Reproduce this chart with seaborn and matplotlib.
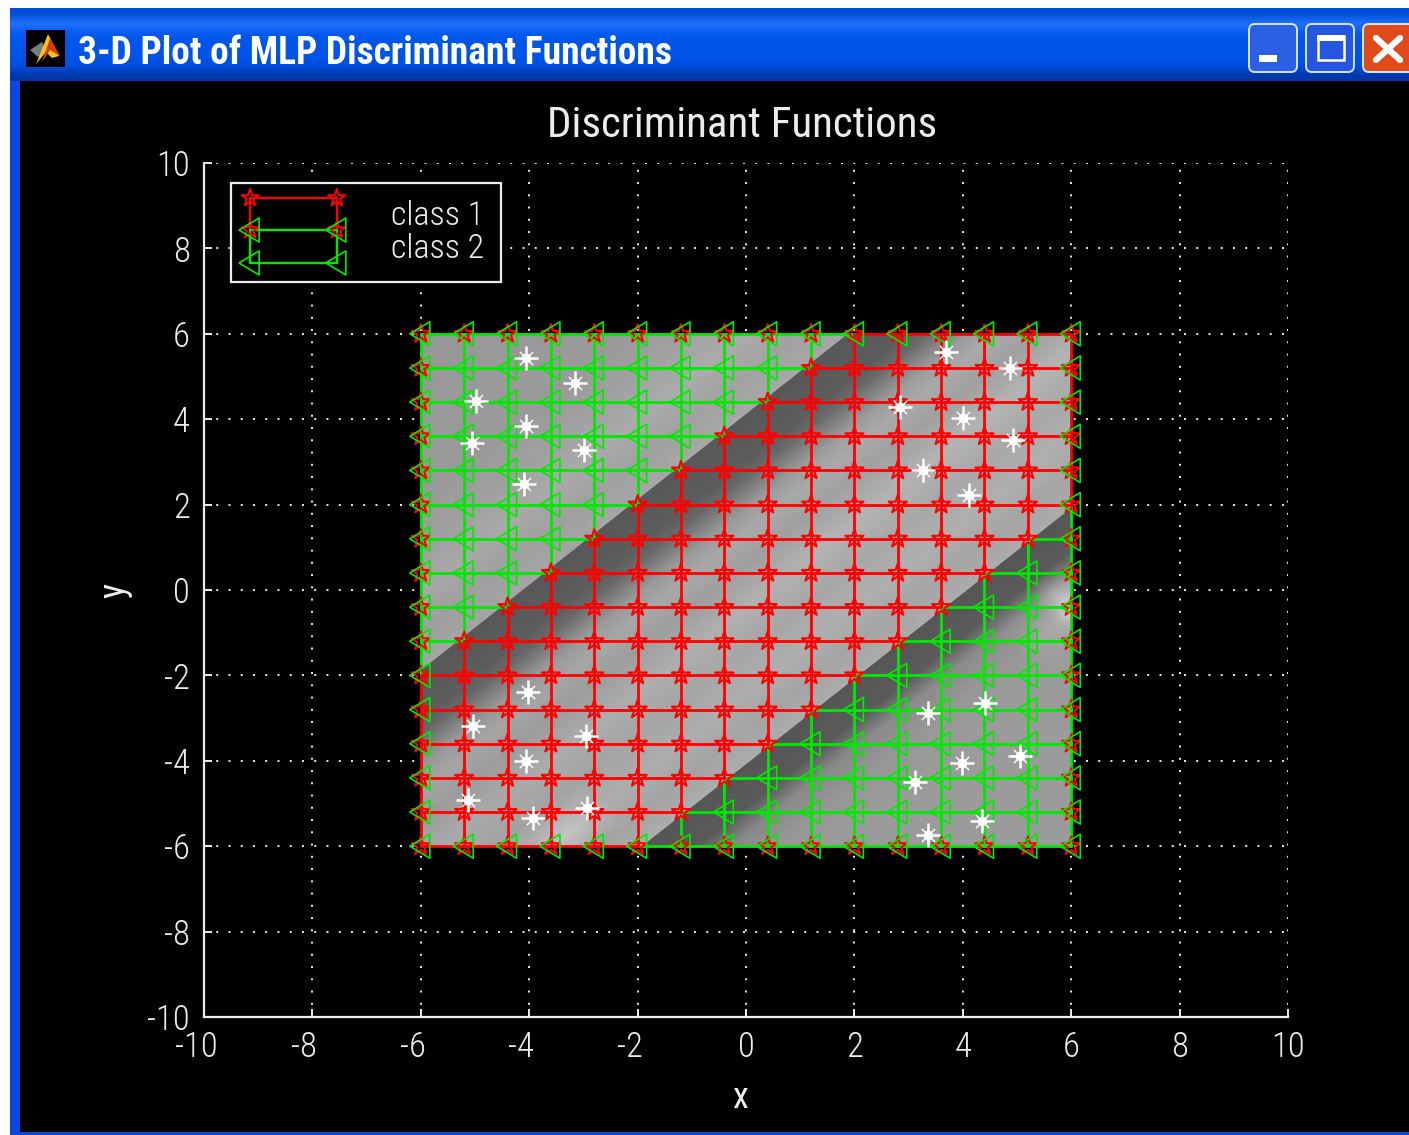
import numpy as np
import pandas as pd
import matplotlib
matplotlib.use("Agg")
import matplotlib.pyplot as plt
from matplotlib.patches import Rectangle, FancyBboxPatch, Polygon
from matplotlib.lines import Line2D
from matplotlib.path import Path
from matplotlib.transforms import ScaledTranslation
import seaborn as sns

# ---------- data ----------
x_nodes = [-6.0, -5.2, -4.4, -3.6, -2.8, -2.0, -1.2, -0.4, 0.4, 1.2, 2.0, 2.8, 3.6, 4.4, 5.2, 6.0]
y_nodes = [6.0, 5.2, 4.4, 3.6, 2.8, 2.0, 1.2, 0.4, -0.4, -1.2, -2.0, -2.8, -3.6, -4.4, -5.2, -6.0]
node_class = [
    "2222222222111111",
    "2222222221111111",
    "2222222211111111",
    "2222222111111111",
    "2222221111111111",
    "2222211111111111",
    "2222111111111112",
    "2221111111111122",
    "2211111111111222",
    "2111111111112222",
    "1111111111122222",
    "1111111111222222",
    "1111111112222222",
    "1111111122222222",
    "1111111222222222",
    "1111112222222222",
]
samples_x = [-4.06, -3.15, -4.98, -4.06, -5.06, -2.99, -4.10,
             3.69, 4.87, 2.84, 4.00, 4.93, 3.27, 4.11,
             -4.02, -5.04, -2.95, -4.06, -5.13, -3.93, -2.93,
             4.41, 3.36, 5.06, 3.99, 3.12, 4.35, 3.36]
samples_y = [5.43, 4.85, 4.43, 3.84, 3.44, 3.28, 2.48,
             5.57, 5.20, 4.29, 4.03, 3.51, 2.81, 2.22,
             -2.39, -3.18, -3.42, -4.00, -4.92, -5.34, -5.11,
             -2.65, -2.88, -3.89, -4.05, -4.50, -5.41, -5.74]
tick_values = [-10, -8, -6, -4, -2, 0, 2, 4, 6, 8, 10]
legend_labels = ["class 1", "class 2"]

# Grey level of the discriminant surface: y-x across, x+y along
across_knots = [12, 8, 7, 6, 5, 4.12, 4.1, 3, 2.6, 1.9, 1.3, 0.6, -0.4, -1.4, -2.4, -3.3, -4.08, -4.1, -5.1, -5.7, -6.5, -7.5, -12]
along_knots = [-14, -10.5, -9, -7.5, 3.5, 5, 5.6, 6.5, 14]
grey_table = [
    [152, 152, 152, 152, 152, 152, 152, 152, 152],
    [155, 155, 155, 155, 155, 155, 155, 155, 155],
    [158, 158, 158, 158, 162, 162, 162, 162, 162],
    [168, 168, 168, 168, 172, 172, 172, 172, 172],
    [158, 158, 158, 158, 162, 162, 162, 162, 162],
    [165, 165, 165, 165, 168, 168, 168, 168, 168],
    [88, 88, 88, 88, 88, 88, 88, 88, 88],
    [94, 94, 94, 94, 94, 94, 94, 94, 94],
    [105, 105, 105, 105, 108, 108, 108, 108, 108],
    [152, 152, 152, 152, 155, 155, 155, 155, 155],
    [165, 165, 165, 165, 170, 170, 170, 170, 170],
    [156, 156, 156, 156, 160, 160, 160, 160, 160],
    [170, 170, 170, 172, 180, 180, 180, 180, 180],
    [162, 162, 162, 164, 168, 168, 168, 168, 168],
    [170, 174, 198, 174, 176, 176, 176, 176, 176],
    [163, 163, 163, 163, 165, 165, 165, 165, 165],
    [174, 174, 174, 174, 172, 172, 172, 172, 172],
    [86, 86, 86, 86, 86, 86, 86, 86, 86],
    [90, 90, 90, 90, 92, 92, 92, 92, 92],
    [135, 135, 135, 135, 140, 145, 170, 150, 140],
    [150, 150, 150, 150, 152, 175, 225, 190, 155],
    [155, 155, 155, 155, 155, 158, 170, 160, 155],
    [155, 155, 155, 155, 155, 155, 155, 155, 155],
]

# ---------- derived tables ----------
rows = []
for j, y in enumerate(y_nodes):
    for i, x in enumerate(x_nodes):
        on_edge = i in (0, len(x_nodes) - 1) or j in (0, len(y_nodes) - 1)
        rows.append(dict(x=x, y=y, cls=int(node_class[j][i]), edge=on_edge))
nodes = pd.DataFrame(rows)

edges = []
eid = 0
for j, y in enumerate(y_nodes):
    for i, x in enumerate(x_nodes):
        if i + 1 < len(x_nodes):
            c = 1 if node_class[j][i] == "1" and node_class[j][i + 1] == "1" else 2
            edges += [dict(u=eid, x=x, y=y, cls=c), dict(u=eid, x=x_nodes[i + 1], y=y, cls=c)]
            eid += 1
        if j + 1 < len(y_nodes):
            c = 1 if node_class[j][i] == "1" and node_class[j + 1][i] == "1" else 2
            edges += [dict(u=eid, x=x, y=y, cls=c), dict(u=eid, x=x, y=y_nodes[j + 1], cls=c)]
            eid += 1
edges = pd.DataFrame(edges)
samples = pd.DataFrame(dict(x=samples_x, y=samples_y))

# ---------- style ----------
sns.set_theme(style="dark")
FONT = ["Roboto Condensed", "Liberation Sans Narrow", "Liberation Sans", "DejaVu Sans"]
FG = "#ececec"
RED = "#ff0000"
GREEN = "#00ea00"
plt.rcParams["font.family"] = FONT
plt.rcParams["font.weight"] = "light"
plt.rcParams["axes.unicode_minus"] = False

W, H = 1409, 1135
fig = plt.figure(figsize=(W / 100, H / 100), dpi=100, facecolor="white")

# ---------- window chrome, in pixel coordinates ----------
bg = fig.add_axes([0, 0, 1, 1], zorder=0)
bg.set_xlim(0, W)
bg.set_ylim(H, 0)
bg.axis("off")
bg.add_patch(Rectangle((10, 8), W, H, fc="#0a47dc", ec="none"))
bg.add_patch(Rectangle((20, 81), W, 1051, fc="black", ec="none"))
bar = np.array([[[0, 78, 216]], [[32, 112, 248]], [[4, 90, 238]], [[0, 84, 232]],
                [[0, 84, 232]], [[0, 78, 226]], [[0, 56, 170]]], dtype=np.uint8)
bg.imshow(bar, extent=(10, W, 81, 8), aspect="auto", interpolation="bilinear", zorder=1)
bg.set_xlim(0, W)
bg.set_ylim(H, 0)
bg.add_patch(Rectangle((26, 30), 39, 37, fc="black", ec="none", zorder=2))
bg.add_patch(Polygon([[30, 50], [42, 42], [46, 50], [38, 57]], fc="#70807c", ec="none", zorder=3))
bg.add_patch(Polygon([[36, 64], [48, 34], [59, 56], [52, 58], [46, 52]], fc="#f6c21c", ec="none", zorder=3))
bg.add_patch(Polygon([[42, 62], [50, 38], [60, 56], [50, 50]], fc="#d93a10", ec="none", zorder=3))
for x0, wid, col in [(1249, 48, "#2a5fe6"), (1306, 48, "#2456e0"), (1363, 60, "#e04a18")]:
    bg.add_patch(FancyBboxPatch((x0, 24), wid, 48, boxstyle="round,pad=0,rounding_size=6",
                                fc=col, ec="#d8e4ff", lw=1.4, zorder=3))
bg.add_patch(Rectangle((1259, 55), 18, 7, fc="white", ec="none", zorder=4))
bg.add_patch(Rectangle((1318, 36), 26, 24, fc="none", ec="white", lw=1.8, zorder=4))
bg.add_patch(Rectangle((1317, 35), 28, 6, fc="white", ec="none", zorder=4))
bg.plot([1376, 1400], [38, 60], color="white", lw=4.5, zorder=4)
bg.plot([1376, 1400], [60, 38], color="white", lw=4.5, zorder=4)
bg.text(78, 53, "3-D Plot of MLP Discriminant Functions", color="white", fontsize=27,
        fontweight="bold", va="center", ha="left", zorder=5)

# ---------- main axes ----------
ax = fig.add_axes([204 / W, 1 - 1017 / H, (1288 - 204) / W, (1017 - 163) / H], zorder=1)
ax.set_facecolor("none")
ax.set_xlim(-10, 10)
ax.set_ylim(-10, 10)
ax.set_axisbelow(True)
ax.grid(True, color=FG, lw=1.4, linestyle=(0, (1, 5.3)))
ax.set_xticks(tick_values)
ax.set_yticks(tick_values)
ax.tick_params(direction="in", length=6, width=1.4, colors=FG, labelsize=25, bottom=True, left=True)
ax.tick_params(axis="x", pad=10)
ax.tick_params(axis="y", pad=10)
for s in ("top", "right"):
    ax.spines[s].set_visible(False)
for s in ("left", "bottom"):
    ax.spines[s].set_color(FG)
    ax.spines[s].set_linewidth(1.6)
ax.set_title("Discriminant Functions", color=FG, fontsize=31, pad=19, x=0.4965)

# surface, built on a skewed mesh (y-x across, x+y along)
A, L = np.meshgrid(across_knots, along_knots, indexing="ij")
surface = ax.pcolormesh((L - A) / 2, (L + A) / 2, np.array(grey_table, float), shading="gouraud",
                        cmap="gray", vmin=0, vmax=255, zorder=1)
surface.set_clip_path(Rectangle((-6, -6), 12, 12, transform=ax.transData))

# mesh lines
sns.lineplot(data=edges, x="x", y="y", hue="cls", units="u", estimator=None, sort=False,
             palette={1: RED, 2: GREEN}, hue_order=[2, 1], lw=2.0, legend=False, ax=ax, zorder=3)

# node markers
TRI = Path([(-11, 0), (9, 12), (9, -12), (-11, 0)], closed=True)
stars = nodes[(nodes.cls == 1) | nodes.edge]
tris = nodes[(nodes.cls == 2) | nodes.edge]
sns.scatterplot(data=stars, x="x", y="y", marker="*", s=190, facecolor="none", edgecolor=RED,
                linewidth=1.5, legend=False, ax=ax, zorder=4, clip_on=False)
sns.scatterplot(data=tris, x="x", y="y", marker=TRI, s=300, facecolor="none", edgecolor=GREEN,
                linewidth=1.2, legend=False, ax=ax, zorder=5, clip_on=False)

# samples
sns.scatterplot(data=samples, x="x", y="y", marker="+", s=300, color="white", linewidth=1.8,
                legend=False, ax=ax, zorder=6)
sns.scatterplot(data=samples, x="x", y="y", marker="x", s=90, color="white", linewidth=1.0,
                legend=False, ax=ax, zorder=6)
sns.scatterplot(data=samples, x="x", y="y", marker="o", s=50, color="white", linewidth=0,
                legend=False, ax=ax, zorder=6)
ax.set_xlabel("x", color=FG, fontsize=26, labelpad=11, x=0.4945)
ax.set_ylabel("y", color=FG, fontsize=26, labelpad=11)

# hyphenated labels sit slightly left of their ticks, as in the original
shift = ScaledTranslation(-8 / 100, 0, fig.dpi_scale_trans)
for lab, val in zip(ax.get_xticklabels(), tick_values):
    if val < 0:
        lab.set_transform(lab.get_transform() + shift)

# legend: real text box, with the MATLAB-style overlapping samples on top
blank = [Line2D([], [], lw=0), Line2D([], [], lw=0)]
leg = ax.legend(blank, legend_labels, loc="upper left", bbox_to_anchor=(0.0249, 0.9766),
                bbox_transform=ax.transAxes, borderaxespad=0, frameon=True, fancybox=False,
                facecolor="black", edgecolor=FG, framealpha=1, fontsize=24.5, labelcolor=FG,
                handlelength=4.0, handletextpad=0.2, labelspacing=0.02, borderpad=0.5)
leg.set_zorder(8)
leg.get_frame().set_linewidth(1.6)
lx, rx = -9.15, -7.55
ly = [9.18, 8.43, 7.66]
kw = dict(zorder=9, clip_on=False)
ax.plot([lx, rx], [ly[0]] * 2, color=RED, lw=1.7, **kw)
ax.plot([lx, rx], [ly[1]] * 2, color=GREEN, lw=1.7, **kw)
ax.plot([lx, rx], [ly[2]] * 2, color=GREEN, lw=1.7, **kw)
for xx in (lx, rx):
    ax.plot([xx, xx], ly[:2], color=RED, lw=1.7, **kw)
    ax.plot([xx, xx], ly[1:], color=GREEN, lw=1.7, **kw)
    ax.scatter([xx, xx], ly[:2], marker="*", s=170, facecolor="none", edgecolor=RED, lw=1.4, **kw)
    ax.scatter([xx, xx], ly[1:], marker=TRI, s=300, facecolor="none", edgecolor=GREEN, lw=1.2, **kw)

fig.savefig("out.png", dpi=100, facecolor="white")
